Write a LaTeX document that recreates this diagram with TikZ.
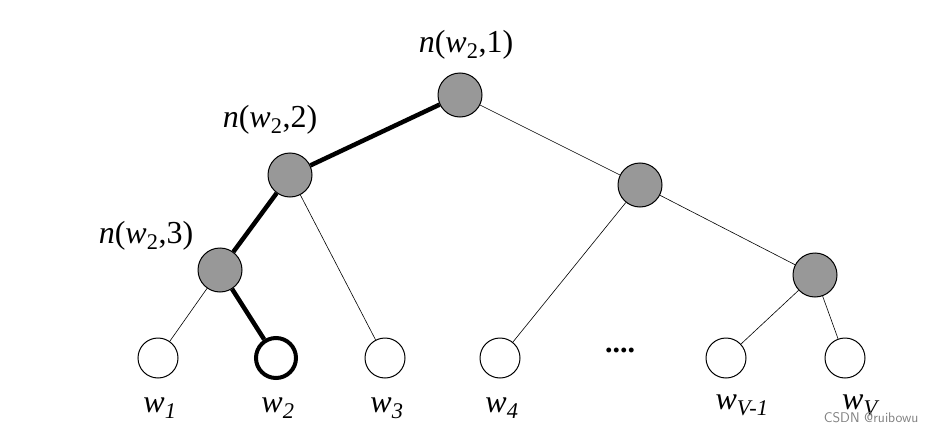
\documentclass[tikz,border=0pt]{standalone}
\usepackage{fontspec}
\setmainfont{Liberation Serif}
\begin{document}
\begin{tikzpicture}[x=1pt,y=-1pt,
  inner/.style={circle,draw,fill=gray!85!black!70,minimum size=44pt,inner sep=0pt,line width=1pt},
  leaf/.style={circle,draw,fill=white,minimum size=40pt,inner sep=0pt,line width=1pt},
  thin/.style={line width=0.6pt},
  thick/.style={line width=4.5pt},
  lab/.style={font=\fontsize{32}{34}\selectfont},
  llab/.style={font=\fontsize{32}{32}\selectfont\itshape}]
\useasboundingbox (0,0) rectangle (934,436);
\node[inner] (r) at (460,95) {};
\node[inner] (a) at (290,175) {};
\node[inner] (b) at (640,185) {};
\node[inner] (c) at (220,270) {};
\node[inner] (d) at (815,275) {};
\node[leaf] (l1) at (158,358) {};
\node[leaf,line width=4pt] (l2) at (276,358) {};
\node[leaf] (l3) at (385,358) {};
\node[leaf] (l4) at (500,358) {};
\node[leaf] (l5) at (726,358) {};
\node[leaf] (l6) at (845,358) {};
\draw[thick] (r) -- (a);
\draw[thick] (a) -- (c);
\draw[thick] (c) -- (l2);
\draw[thin] (r) -- (b);
\draw[thin] (a) -- (l3);
\draw[thin] (c) -- (l1);
\draw[thin] (b) -- (l4);
\draw[thin] (b) -- (d);
\draw[thin] (d) -- (l5);
\draw[thin] (d) -- (l6);
\node[lab] (t1) at (466,45) {\textit{n}(\textit{w}\textsubscript{2},1)};
\node[lab] (t2) at (270,120) {\textit{n}(\textit{w}\textsubscript{2},2)};
\node[lab] (t3) at (146,236) {\textit{n}(\textit{w}\textsubscript{2},3)};
\node[font=\fontsize{30}{30}\selectfont\bfseries] (dots) at (620,350) {....};
\node[llab] (w1) at (160,408) {w\textsubscript{1}};
\node[llab] (w2) at (278,408) {w\textsubscript{2}};
\node[llab] (w3) at (387,408) {w\textsubscript{3}};
\node[llab] (w4) at (502,408) {w\textsubscript{4}};
\node[llab] (w5) at (742,405) {w\textsubscript{V-1}};
\node[llab] (w6) at (860,405) {w\textsubscript{V}};
\node[font=\fontsize{14}{14}\selectfont\sffamily,text=gray,anchor=east] (wm) at (922,418) {CSDN @ruibowu};
\end{tikzpicture}
\end{document}
